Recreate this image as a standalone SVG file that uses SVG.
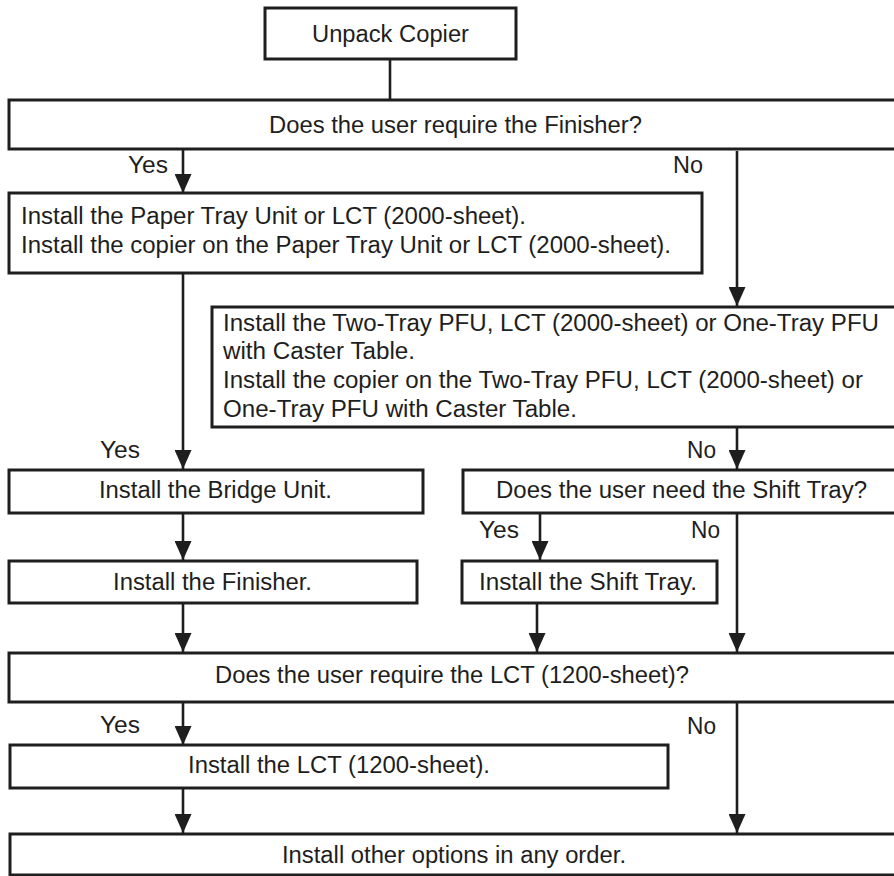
<svg xmlns="http://www.w3.org/2000/svg" width="894" height="876" viewBox="0 0 894 876">
<style>
.box{fill:#fff;stroke:#1e1e1e;stroke-width:3}
.t{font-family:"Liberation Sans",Arial,sans-serif;font-size:23.5px;fill:#1e1e1e}
.c{text-anchor:middle}
.ln{stroke:#1e1e1e;stroke-width:2.6;fill:none}
.ar{marker-end:url(#ah)}
</style>
<defs>
<marker id="ah" markerUnits="userSpaceOnUse" markerWidth="19" markerHeight="17" refX="19" refY="8.5" orient="auto">
<path d="M0,0 L19,8.5 L0,17 Z" fill="#1e1e1e"/>
</marker>
</defs>
<rect width="894" height="876" fill="#fff"/>
<g id="connectors">
<line class="ln" x1="390" y1="59" x2="390" y2="100"/>
<line class="ln ar" x1="183" y1="149" x2="183" y2="193"/>
<line class="ln ar" x1="737" y1="151" x2="737" y2="306"/>
<line class="ln ar" x1="183" y1="273" x2="183" y2="469"/>
<line class="ln ar" x1="737" y1="427" x2="737" y2="469"/>
<line class="ln ar" x1="183" y1="513" x2="183" y2="560"/>
<line class="ln ar" x1="540" y1="513" x2="540" y2="560"/>
<line class="ln ar" x1="737" y1="513" x2="737" y2="652"/>
<line class="ln ar" x1="183" y1="603" x2="183" y2="652"/>
<line class="ln ar" x1="537" y1="603" x2="537" y2="652"/>
<line class="ln ar" x1="183" y1="702" x2="183" y2="745"/>
<line class="ln ar" x1="737" y1="702" x2="737" y2="833"/>
<line class="ln ar" x1="183" y1="788" x2="183" y2="833"/>
<text class="t" x="128" y="173" textLength="40" lengthAdjust="spacingAndGlyphs">Yes</text>
<text class="t" x="673" y="173" textLength="30" lengthAdjust="spacingAndGlyphs">No</text>
<text class="t" x="100" y="458" textLength="40" lengthAdjust="spacingAndGlyphs">Yes</text>
<text class="t" x="687" y="458" textLength="29" lengthAdjust="spacingAndGlyphs">No</text>
<text class="t" x="479" y="538" textLength="40" lengthAdjust="spacingAndGlyphs">Yes</text>
<text class="t" x="691" y="538" textLength="29" lengthAdjust="spacingAndGlyphs">No</text>
<text class="t" x="100" y="733" textLength="40" lengthAdjust="spacingAndGlyphs">Yes</text>
<text class="t" x="687" y="734" textLength="29" lengthAdjust="spacingAndGlyphs">No</text>
</g>
<g id="unpack">
<rect class="box" x="265" y="8" width="251" height="51"/>
<text class="t c" x="390.5" y="42" textLength="157" lengthAdjust="spacingAndGlyphs">Unpack Copier</text>
</g>
<g id="q-finisher">
<rect class="box" x="9" y="100" width="900" height="49"/>
<text class="t c" x="455.5" y="133" textLength="373" lengthAdjust="spacingAndGlyphs">Does the user require the Finisher?</text>
</g>
<g id="paper-tray">
<rect class="box" x="9" y="193" width="693" height="80"/>
<text class="t" x="21" y="224" textLength="505" lengthAdjust="spacingAndGlyphs">Install the Paper Tray Unit or LCT (2000-sheet).</text>
<text class="t" x="21" y="253" textLength="650" lengthAdjust="spacingAndGlyphs">Install the copier on the Paper Tray Unit or LCT (2000-sheet).</text>
</g>
<g id="two-tray">
<rect class="box" x="212" y="307" width="700" height="120"/>
<text class="t" x="223" y="331" textLength="656" lengthAdjust="spacingAndGlyphs">Install the Two-Tray PFU, LCT (2000-sheet) or One-Tray PFU</text>
<text class="t" x="223" y="359" textLength="192" lengthAdjust="spacingAndGlyphs">with Caster Table.</text>
<text class="t" x="223" y="388" textLength="640" lengthAdjust="spacingAndGlyphs">Install the copier on the Two-Tray PFU, LCT (2000-sheet) or</text>
<text class="t" x="223" y="417" textLength="354" lengthAdjust="spacingAndGlyphs">One-Tray PFU with Caster Table.</text>
</g>
<g id="bridge">
<rect class="box" x="9" y="470" width="414" height="43"/>
<text class="t c" x="215.5" y="498" textLength="233" lengthAdjust="spacingAndGlyphs">Install the Bridge Unit.</text>
</g>
<g id="q-shift">
<rect class="box" x="463" y="470" width="450" height="43"/>
<text class="t c" x="681.5" y="498" textLength="371" lengthAdjust="spacingAndGlyphs">Does the user need the Shift Tray?</text>
</g>
<g id="finisher">
<rect class="box" x="9" y="561" width="408" height="42"/>
<text class="t c" x="212.5" y="590" textLength="199" lengthAdjust="spacingAndGlyphs">Install the Finisher.</text>
</g>
<g id="shift-tray">
<rect class="box" x="462" y="561" width="255" height="42"/>
<text class="t c" x="588" y="590" textLength="218" lengthAdjust="spacingAndGlyphs">Install the Shift Tray.</text>
</g>
<g id="q-lct">
<rect class="box" x="9" y="653" width="900" height="49"/>
<text class="t c" x="452" y="683" textLength="474" lengthAdjust="spacingAndGlyphs">Does the user require the LCT (1200-sheet)?</text>
</g>
<g id="lct">
<rect class="box" x="10" y="745" width="658" height="43"/>
<text class="t c" x="339" y="773" textLength="302" lengthAdjust="spacingAndGlyphs">Install the LCT (1200-sheet).</text>
</g>
<g id="others">
<rect class="box" x="10" y="834" width="900" height="41"/>
<text class="t c" x="454" y="863" textLength="344" lengthAdjust="spacingAndGlyphs">Install other options in any order.</text>
</g>
</svg>
